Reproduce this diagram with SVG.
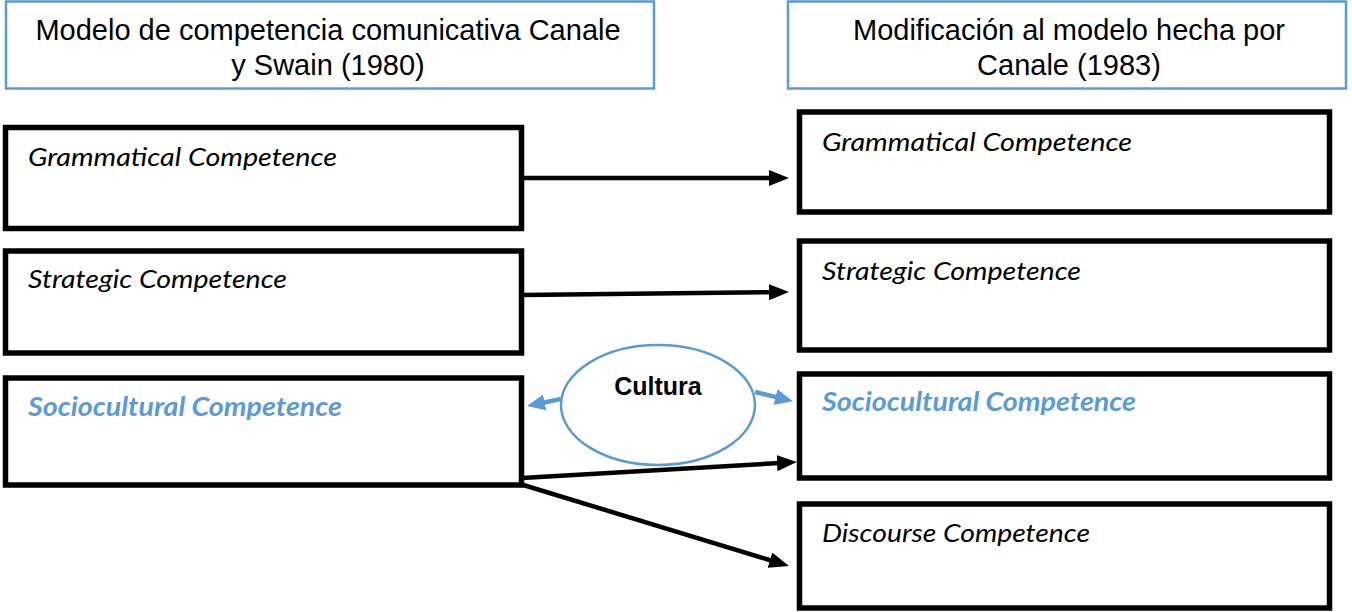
<svg xmlns="http://www.w3.org/2000/svg" width="1352" height="612" viewBox="0 0 1352 612">
  <style>
    .hdr { fill: #ffffff; stroke: #5B9BD5; stroke-width: 2.5; }
    .hdrt { font-family: "Liberation Sans", Arial, sans-serif; font-size: 29px; fill: #000; text-anchor: middle; }
    .box { fill: #ffffff; stroke: #000; stroke-width: 5.5; }
    .lbl { font-family: Lato, "Open Sans", sans-serif; font-style: italic; font-size: 26px; fill: #000; }
    .lblb { font-family: Lato, "Open Sans", sans-serif; font-style: italic; font-weight: bold; font-size: 26px; fill: #5B9BD5; }
    .conn { stroke: #000; stroke-width: 4.5; fill: none; marker-end: url(#ah); }
    .bconn { stroke: #5B9BD5; stroke-width: 4.5; fill: none; marker-end: url(#bh); }
    .ell { fill: #ffffff; stroke: #5B9BD5; stroke-width: 2.5; }
    .cult { font-family: "Liberation Sans", Arial, sans-serif; font-weight: bold; font-size: 25px; fill: #000; text-anchor: middle; }
  </style>
  <defs>
    <marker id="ah" markerUnits="userSpaceOnUse" viewBox="0 -8 20 16" refX="2" refY="0" markerWidth="20" markerHeight="16" orient="auto">
      <path d="M0,-8 L20,0 L0,8 z" fill="#000"/>
    </marker>
    <marker id="bh" markerUnits="userSpaceOnUse" viewBox="0 -8 18 16" refX="2" refY="0" markerWidth="18" markerHeight="16" orient="auto">
      <path d="M0,-8 L18,0 L0,8 z" fill="#5B9BD5"/>
    </marker>
  </defs>
  <rect width="1352" height="612" fill="#ffffff"/>

  <g id="header-left">
    <rect class="hdr" x="6" y="1.5" width="648" height="87"/>
    <text class="hdrt" x="328" y="40">Modelo de competencia comunicativa Canale</text>
    <text class="hdrt" x="328" y="75">y Swain (1980)</text>
  </g>
  <g id="header-right">
    <rect class="hdr" x="788" y="1.5" width="558" height="87"/>
    <text class="hdrt" x="1069" y="40">Modificación al modelo hecha por</text>
    <text class="hdrt" x="1069" y="75">Canale (1983)</text>
  </g>

  <g id="left-grammatical">
    <rect class="box" x="5.5" y="127.5" width="516" height="101"/>
    <text class="lbl" x="28" y="166" textLength="309" lengthAdjust="spacingAndGlyphs">Grammatical Competence</text>
  </g>
  <g id="left-strategic">
    <rect class="box" x="5.5" y="251" width="516" height="102"/>
    <text class="lbl" x="28" y="288" textLength="259" lengthAdjust="spacingAndGlyphs">Strategic Competence</text>
  </g>
  <g id="left-sociocultural">
    <rect class="box" x="5.5" y="378" width="516" height="107"/>
    <text class="lblb" x="28" y="416" textLength="314" lengthAdjust="spacingAndGlyphs">Sociocultural Competence</text>
  </g>

  <g id="right-grammatical">
    <rect class="box" x="799.5" y="112" width="530" height="100"/>
    <text class="lbl" x="822" y="151" textLength="310" lengthAdjust="spacingAndGlyphs">Grammatical Competence</text>
  </g>
  <g id="right-strategic">
    <rect class="box" x="799.5" y="241" width="530" height="109"/>
    <text class="lbl" x="822" y="280" textLength="259" lengthAdjust="spacingAndGlyphs">Strategic Competence</text>
  </g>
  <g id="right-sociocultural">
    <rect class="box" x="799.5" y="374" width="530" height="104"/>
    <text class="lblb" x="822" y="411" textLength="314" lengthAdjust="spacingAndGlyphs">Sociocultural Competence</text>
  </g>
  <g id="right-discourse">
    <rect class="box" x="799.5" y="504" width="530" height="104"/>
    <text class="lbl" x="822" y="542" textLength="268" lengthAdjust="spacingAndGlyphs">Discourse Competence</text>
  </g>

  <g id="cultura">
    <ellipse class="ell" cx="658" cy="405" rx="97" ry="60"/>
    <text class="cult" x="658" y="395">Cultura</text>
  </g>

  <g id="connectors">
    <line class="conn" x1="522" y1="178" x2="771" y2="178"/>
    <line class="conn" x1="522" y1="295" x2="771" y2="292.2"/>
    <line class="conn" x1="522" y1="478" x2="779" y2="463.05"/>
    <line class="conn" x1="520" y1="484" x2="771.8" y2="560.75"/>
    <line class="bconn" x1="561" y1="399" x2="542.7" y2="402.8"/>
    <line class="bconn" x1="755" y1="392" x2="777.4" y2="397.4"/>
  </g>
</svg>
